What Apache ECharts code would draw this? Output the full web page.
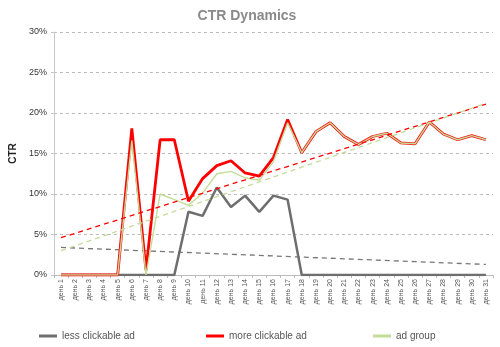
<!DOCTYPE html>
<html><head><meta charset="utf-8">
<script src="https://cdn.jsdelivr.net/npm/echarts@6/dist/echarts.min.js"></script>
<style>html,body{margin:0;padding:0;background:#fff}#c{width:500px;height:347px}</style>
</head><body><div id="c"></div>
<script>
const days = Array.from({length:31},(_,i)=>'день '+(i+1));
const lessClickable = [0,0,0,0,0,0,0,0,0,7.8,7.3,10.8,8.4,9.8,7.8,9.8,9.3,0,0,0,0,0,0,0,0,0,0,0,0,0,0];
const moreClickable = [0,0,0,0,0,18.1,0.6,16.7,16.7,9.1,11.9,13.5,14.1,12.6,12.2,14.5,19.2,15.1,17.7,18.8,17.1,16.1,17.1,17.5,16.3,16.2,18.9,17.4,16.7,17.2,16.7];
const adGroup = [0,0,0,0,0,16.6,0,10.0,9.3,8.6,10.1,12.5,12.8,12.0,11.7,14.0,18.8,15.1,17.7,18.8,17.1,16.1,17.1,17.5,16.3,16.2,18.9,17.4,16.7,17.2,16.7];
const trendLessEnds = [3.4, 1.3];
const trendMoreEnds = [4.6, 21.1];
const trendGroupEnds = [3.0, 21.2];
const yTicks = [0,5,10,15,20,25,30];

function ends(e){const a=new Array(31).fill(null);a[0]=e[0];a[30]=e[1];return a;}
const chart = echarts.init(document.getElementById('c'));
const legendText = {color:'#555', fontSize:10, fontFamily:'Liberation Sans'};
chart.setOption({
  animation:false,
  title:{text:'CTR Dynamics', left:242, top:4, textAlign:'center',
    textStyle:{color:'#8a8a8a', fontSize:14, fontWeight:'bold', fontFamily:'Liberation Sans'}},
  grid:{left:44, right:7, top:32, bottom:72},
  legend:[
    {data:['less clickable ad'], left:34, top:326, itemWidth:18, itemHeight:3, itemGap:5, textStyle:legendText, icon:'rect'},
    {data:['more clickable ad'], left:201, top:326, itemWidth:18, itemHeight:3, textStyle:legendText, icon:'rect'},
    {data:['ad group'], left:368, top:326, itemWidth:18, itemHeight:3, textStyle:legendText, icon:'rect'}
  ],
  xAxis:{type:'category', data:days, boundaryGap:true,
    axisLine:{lineStyle:{color:'#bbb'}},
    axisTick:{show:true, lineStyle:{color:'#bbb'}, length:3},
    axisLabel:{rotate:90, fontSize:7, color:'#555', interval:0, margin:4, fontFamily:'Liberation Sans'}},
  yAxis:{type:'value', min:0, max:30, interval:5,
    name:'CTR', nameLocation:'middle', nameGap:28,
    nameTextStyle:{fontSize:10, fontWeight:'bold', color:'#222', fontFamily:'Liberation Sans'},
    axisLine:{show:true, lineStyle:{color:'#c8c8c8'}},
    axisTick:{show:true, length:3, lineStyle:{color:'#c8c8c8'}},
    axisLabel:{formatter:v=>yTicks.includes(v)?v+'%':'', fontSize:9, color:'#333', margin:7, fontFamily:'Liberation Sans'},
    splitLine:{lineStyle:{color:'#bbb', type:[3,3]}}},
  series:[
    {name:'less clickable ad', type:'line', data:lessClickable, symbol:'none', color:'#6e6e6e', lineStyle:{width:2.5, color:'#6e6e6e'}, z:2},
    {name:'more clickable ad', type:'line', data:moreClickable, symbol:'none', color:'#ff0000', lineStyle:{width:2.8, color:'#ff0000'}, z:3},
    {name:'ad group', type:'line', data:adGroup, symbol:'none', color:'#c3dc98', lineStyle:{width:1.4, color:'#c3dc98'}, z:4},
    {name:'trendLess', type:'line', data:ends(trendLessEnds), connectNulls:true, symbol:'none', lineStyle:{width:1.3, color:'#777', type:[5,4]}, z:1},
    {name:'trendMore', type:'line', data:ends(trendMoreEnds), connectNulls:true, symbol:'none', lineStyle:{width:1.3, color:'#ff0000', type:[5,4]}, z:5},
    {name:'trendGroup', type:'line', data:ends(trendGroupEnds), connectNulls:true, symbol:'none', lineStyle:{width:1.3, color:'#c3dc98', type:[5,4]}, z:5}
  ]
});
</script></body></html>
